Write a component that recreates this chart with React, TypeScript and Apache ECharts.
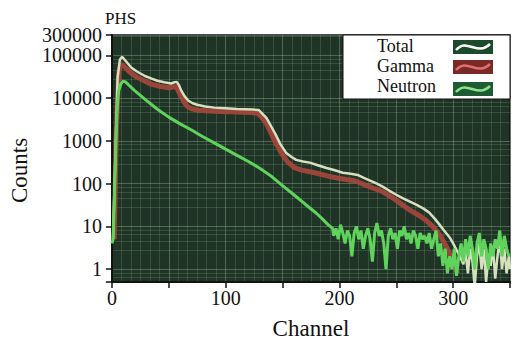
import React, { useEffect, useRef } from "react";
import * as echarts from "echarts";

const title = "PHS";
const xName = "Channel";
const yName = "Counts";
const seriesNames = ["Total", "Gamma", "Neutron"];
const xLabelValues = [0, 100, 200, 300];
const yLabelValues = [1, 10, 100, 1000, 10000, 100000, 300000];

const totalData: [number, number][] = [
  [1, 5], [3, 400], [5, 30000], [7, 80000], [9, 92000], [12, 75000], [17, 52000],
  [22, 42000], [29, 33000], [35, 28500], [40, 25500], [46, 23500], [52, 22000],
  [55, 23500], [57, 24000], [59, 20000], [61, 15000], [64, 11000], [67, 8800],
  [71, 7600], [75, 7000], [82, 6400], [90, 6000], [100, 5800], [110, 5600],
  [118, 5500], [124, 5400], [129, 5300], [132, 4400], [136, 3400], [140, 2200],
  [144, 1400], [148, 850], [153, 530], [158, 420], [162, 360], [168, 330],
  [174, 310], [181, 270], [188, 235], [196, 205], [203, 180], [210, 170],
  [216, 160], [222, 135], [228, 115], [233, 100], [238, 85], [244, 68],
  [250, 55], [256, 45], [262, 38], [268, 32], [274, 26], [279, 21], [284, 15],
  [288, 11], [292, 8], [297, 5.5], [300, 4], [303, 2.8], [306, 2], [309, 1.3],
  [311, 2.5], [313, 0.8], [315, 3], [317, 1.5], [319, 0.4], [321, 2], [323, 4],
  [325, 1], [327, 3], [329, 0.5], [331, 2], [333, 1.2], [335, 3.5], [337, 0.6],
  [339, 2], [341, 5], [343, 1], [345, 3], [347, 0.8], [349, 2], [350, 1],
];

const gammaData: [number, number][] = [
  [2, 5], [4, 2000], [6, 40000], [8, 62000], [11, 55000], [16, 40000],
  [22, 31000], [29, 25000], [35, 21000], [42, 19000], [50, 17500], [55, 18500],
  [57, 18000], [60, 12000], [63, 8500], [66, 6500], [70, 5600], [76, 5200],
  [85, 5000], [95, 4900], [105, 4800], [115, 4700], [123, 4600], [128, 4400],
  [132, 3500], [136, 2500], [140, 1500], [144, 900], [149, 520], [154, 330],
  [160, 240], [166, 210], [174, 190], [182, 170], [190, 150], [198, 135],
  [206, 125], [214, 115], [222, 95], [230, 78], [238, 65], [246, 48],
  [254, 34], [262, 24], [270, 18], [276, 14], [282, 10], [287, 7], [291, 4.7],
  [295, 3], [298, 2], [301, 1.3], [304, 0.8],
];

const neutronData: [number, number][] = [
  [0, 4], [1, 5], [2, 30], [3, 300], [4, 2500], [5, 8000], [6, 15000],
  [8, 22000], [10, 25000], [12, 24000], [15, 20000], [20, 15000], [30, 9000],
  [40, 5500], [50, 3600], [60, 2500], [70, 1800], [80, 1250], [90, 900],
  [100, 640], [110, 460], [120, 330], [130, 230], [140, 150], [150, 90],
  [160, 55], [170, 33], [180, 20], [185, 15], [190, 11], [194, 9],
  [195, 6], [197, 9], [199, 5], [201, 11], [203, 7], [205, 4], [207, 8],
  [209, 6], [211, 2], [213, 7], [215, 10], [217, 5], [219, 8], [221, 3],
  [223, 6], [225, 9], [227, 5], [229, 1.5], [231, 7], [233, 12], [235, 6],
  [237, 8], [239, 4], [241, 1], [243, 6], [245, 9], [247, 5], [249, 7],
  [251, 3], [253, 8], [255, 6], [257, 10], [259, 5], [261, 7], [263, 4],
  [265, 8], [267, 6], [269, 3], [271, 7], [273, 5], [275, 6], [277, 4],
  [279, 7], [281, 3], [283, 5], [285, 8], [287, 2], [289, 4], [291, 1.2],
  [293, 3], [295, 0.8], [297, 2], [299, 1], [301, 3], [303, 0.7], [305, 2],
  [307, 4], [309, 1.5], [311, 5], [313, 2], [315, 6], [317, 3], [319, 1],
  [321, 4], [323, 7], [325, 2], [327, 5], [329, 3], [331, 1], [333, 4],
  [335, 2], [337, 5], [339, 3], [341, 8], [343, 2], [345, 6], [347, 3], [349, 2],
];

const FONT = "'Liberation Serif', 'Times New Roman', serif";

function legendIcon(x: number, y: number, bg: string, wave: string) {
  return [
    { type: "rect", z: 102, shape: { x, y, width: 40, height: 14 }, style: { fill: bg } },
    {
      type: "bezierCurve",
      z: 103,
      shape: {
        x1: x + 3, y1: y + 10,
        cpx1: x + 14, cpy1: y - 3,
        cpx2: x + 24, cpy2: y + 17,
        x2: x + 37, y2: y + 4,
      },
      style: { stroke: wave, lineWidth: 2.5, fill: null },
    },
  ];
}

export default function App() {
  const ref = useRef<HTMLDivElement>(null);
  useEffect(() => {
    if (!ref.current) return;
    const chart = echarts.init(ref.current, undefined, { renderer: "svg" });
    const option: any = {
      animation: false,
      backgroundColor: "#ffffff",
      grid: {
        left: 107,
        right: 4,
        top: 35,
        bottom: 59,
        show: true,
        backgroundColor: "#1f3426",
        borderColor: "#111",
        borderWidth: 1.5,
      },
      xAxis: {
        type: "value",
        min: 0,
        max: 350,
        interval: 50,
        name: xName,
        nameLocation: "middle",
        nameGap: 35,
        nameTextStyle: { fontFamily: FONT, fontSize: 23, color: "#111" },
        axisLine: { show: true, onZero: false, lineStyle: { color: "#111", width: 2 } },
        axisTick: { show: true, inside: false, length: 6, lineStyle: { color: "#111", width: 1.5 } },
        axisLabel: {
          fontFamily: FONT,
          fontSize: 20,
          color: "#111",
          margin: 6,
          formatter: (v: number) => (xLabelValues.indexOf(v) >= 0 ? String(v) : ""),
        },
        splitLine: { show: true, lineStyle: { color: "rgba(170,200,170,0.35)", width: 1 } },
        minorTick: { show: false, splitNumber: 6 },
        minorSplitLine: { show: true, lineStyle: { color: "rgba(140,180,140,0.22)", width: 1 } },
      },
      yAxis: {
        type: "log",
        logBase: 10,
        min: 0.5,
        max: 300000,
        name: yName,
        nameLocation: "middle",
        nameGap: 68,
        nameTextStyle: { fontFamily: FONT, fontSize: 23, color: "#111", padding: [0, 24, 0, 0] },
        axisLine: { show: true, lineStyle: { color: "#111", width: 2 } },
        axisTick: { show: true, inside: false, length: 6, lineStyle: { color: "#111", width: 1.5 } },
        axisLabel: {
          fontFamily: FONT,
          fontSize: 20,
          color: "#111",
          margin: 10,
          hideOverlap: false,
          showMinLabel: true,
          showMaxLabel: true,
          formatter: (v: number) => {
            const r = Math.round(v);
            return yLabelValues.indexOf(r) >= 0 && Math.abs(v - r) < 0.01 * r ? String(r) : "";
          },
        },
        splitLine: { show: true, lineStyle: { color: "rgba(170,200,170,0.35)", width: 1 } },
        minorTick: { show: false, splitNumber: 5 },
        minorSplitLine: { show: true, lineStyle: { color: "rgba(140,180,140,0.22)", width: 1 } },
      },
      series: [
        {
          name: seriesNames[1],
          type: "line",
          data: gammaData,
          showSymbol: false,
          symbol: "none",
          clip: true,
          lineStyle: { color: "#a8463c", width: 5, opacity: 0.9 },
          z: 2,
        },
        {
          name: seriesNames[0],
          type: "line",
          data: totalData,
          showSymbol: false,
          symbol: "none",
          clip: true,
          lineStyle: { color: "#d6dfbe", width: 2.5 },
          z: 3,
        },
        {
          name: seriesNames[2],
          type: "line",
          data: neutronData,
          showSymbol: false,
          symbol: "none",
          clip: true,
          lineStyle: { color: "#5fd35c", width: 3 },
          z: 4,
        },
      ],
      graphic: [
        {
          type: "text",
          z: 101,
          x: 105,
          y: 10,
          style: { text: title, fontFamily: FONT, fontSize: 17, fill: "#111" },
        },
        {
          type: "rect",
          z: 100,
          shape: { x: 343, y: 35, width: 167, height: 64 },
          style: { fill: "#ffffff", stroke: "#111", lineWidth: 1 },
        },
        {
          type: "text",
          z: 101,
          x: 377,
          y: 37,
          style: { text: seriesNames[0], fontFamily: FONT, fontSize: 18, fill: "#111" },
        },
        {
          type: "text",
          z: 101,
          x: 377,
          y: 57,
          style: { text: seriesNames[1], fontFamily: FONT, fontSize: 18, fill: "#111" },
        },
        {
          type: "text",
          z: 101,
          x: 377,
          y: 77,
          style: { text: seriesNames[2], fontFamily: FONT, fontSize: 18, fill: "#111" },
        },
        ...legendIcon(453, 40, "#1d4a2c", "#ffffff"),
        ...legendIcon(453, 60, "#7a2a26", "#e07070"),
        ...legendIcon(453, 82, "#1e5a34", "#8fe08a"),
      ],
    };
    chart.setOption(option);
    return () => chart.dispose();
  }, []);
  return <div ref={ref} style={{ width: 514, height: 345, position: "absolute", left: 0, top: 0 }} />;
}
